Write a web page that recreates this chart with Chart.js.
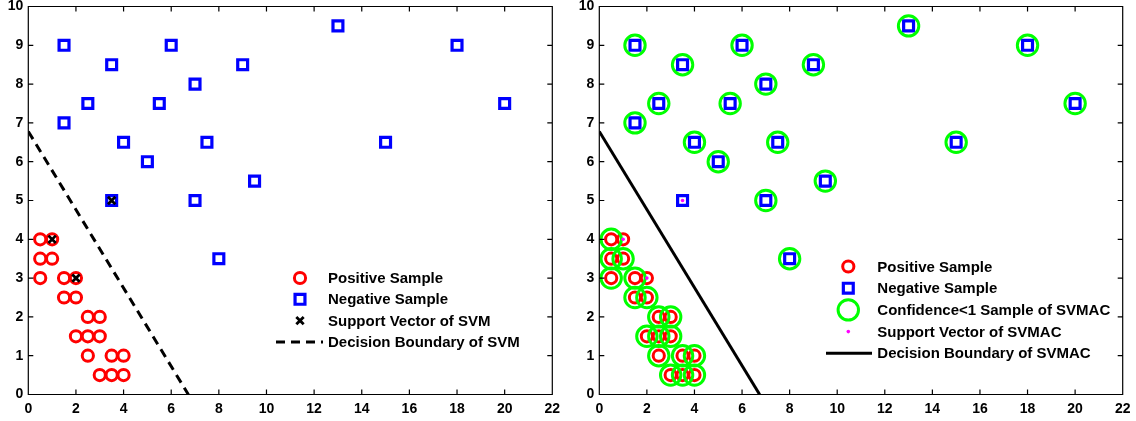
<!DOCTYPE html>
<html><head><meta charset="utf-8">
<script src="https://cdn.jsdelivr.net/npm/chart.js@4.4.1/dist/chart.umd.min.js"></script>
<style>
html,body{margin:0;padding:0;background:#fff;}
#wrap{position:relative;width:1136px;height:421px;overflow:hidden;}
canvas{position:absolute;top:0;}
</style></head><body>
<div id="wrap">
<canvas id="c1" width="570" height="421" style="left:0px"></canvas>
<canvas id="c2" width="566" height="421" style="left:570px"></canvas>
</div>
<script>
// ---------- data ----------
const xTicks = [0, 2, 4, 6, 8, 10, 12, 14, 16, 18, 20, 22];
const yTicks = [0, 1, 2, 3, 4, 5, 6, 7, 8, 9, 10];

const positiveX = [0.5, 1, 0.5, 1, 0.5, 1.5, 2, 1.5, 2, 2.5, 3, 2, 2.5, 3, 2.5, 3.5, 4, 3, 3.5, 4];
const positiveY = [4, 4, 3.5, 3.5, 3, 3, 3, 2.5, 2.5, 2, 2, 1.5, 1.5, 1.5, 1, 1, 1, 0.5, 0.5, 0.5];

const negativeX = [1.5, 3.5, 6, 2.5, 1.5, 5.5, 7, 9, 13, 18, 20, 4, 7.5, 5, 15, 9.5, 3.5, 7, 8];
const negativeY = [9, 8.5, 9, 7.5, 7, 7.5, 8, 8.5, 9.5, 9, 7.5, 6.5, 6.5, 6, 6.5, 5.5, 5, 5, 3.5];

const svmSupportX = [1, 2, 3.5];
const svmSupportY = [4, 3, 5];
const svmBoundaryX = [0, 6.72];
const svmBoundaryY = [6.78, 0];

const confidenceX = [0.5, 0.5, 1, 0.5, 1.5, 1.5, 2, 2.5, 3, 2, 2.5, 3, 2.5, 3.5, 4, 3, 3.5, 4,
  1.5, 3.5, 6, 2.5, 1.5, 5.5, 7, 9, 13, 18, 20, 4, 7.5, 5, 15, 9.5, 7, 8];
const confidenceY = [4, 3.5, 3.5, 3, 3, 2.5, 2.5, 2, 2, 1.5, 1.5, 1.5, 1, 1, 1, 0.5, 0.5, 0.5,
  9, 8.5, 9, 7.5, 7, 7.5, 8, 8.5, 9.5, 9, 7.5, 6.5, 6.5, 6, 6.5, 5.5, 5, 3.5];

const svmacSupportX = [1, 2, 3.5];
const svmacSupportY = [4, 3, 5];
const svmacBoundaryX = [0, 6.74];
const svmacBoundaryY = [6.78, 0];

// ---------- helpers ----------
const pts = (xs, ys) => xs.map((x, i) => ({ x: x, y: ys[i] }));
const FONT = "'Liberation Sans', Arial, Helvetica, sans-serif";

function posDS(order) {
  return { label: 'Positive Sample', data: pts(positiveX, positiveY), pointStyle: 'circle', pointRadius: 5.6,
    borderColor: '#ff0000', backgroundColor: 'rgba(0,0,0,0)', pointBorderWidth: 3, showLine: false, order: order, lg: 'point' };
}
function negDS(order) {
  return { label: 'Negative Sample', data: pts(negativeX, negativeY), pointStyle: 'rect', pointRadius: 7,
    borderColor: '#0000ff', backgroundColor: 'rgba(0,0,0,0)', pointBorderWidth: 3.2, showLine: false, order: order, lg: 'point' };
}

const framePlugin = {
  id: 'frame',
  afterDraw(chart) {
    const ctx = chart.ctx, a = chart.chartArea;
    const xs = chart.scales.x, ys = chart.scales.y;
    ctx.save();
    ctx.strokeStyle = '#000';
    ctx.lineWidth = 1.2;
    ctx.beginPath();
    ctx.rect(a.left, a.top, a.right - a.left, a.bottom - a.top);
    const tl = 5;
    xTicks.forEach(v => {
      const p = xs.getPixelForValue(v);
      ctx.moveTo(p, a.bottom); ctx.lineTo(p, a.bottom - tl);
      ctx.moveTo(p, a.top); ctx.lineTo(p, a.top + tl);
    });
    yTicks.forEach(v => {
      const p = ys.getPixelForValue(v);
      ctx.moveTo(a.left, p); ctx.lineTo(a.left + tl, p);
      ctx.moveTo(a.right, p); ctx.lineTo(a.right - tl, p);
    });
    ctx.stroke();

    // legend
    const L = chart.options.plugins.customLegend;
    ctx.font = 'bold 15px ' + FONT;
    ctx.textBaseline = 'middle';
    ctx.textAlign = 'left';
    chart.data.datasets.forEach((ds, i) => {
      const y = L.y + i * L.dy;
      ctx.save();
      if (ds.lg === 'line') {
        ctx.strokeStyle = ds.borderColor;
        ctx.lineWidth = ds.borderWidth;
        ctx.setLineDash(ds.borderDash || []);
        ctx.beginPath();
        ctx.moveTo(L.lineX0, y); ctx.lineTo(L.lineX1, y);
        ctx.stroke();
      } else {
        ctx.strokeStyle = ds.borderColor;
        ctx.fillStyle = ds.backgroundColor;
        ctx.lineWidth = ds.pointBorderWidth;
        Chart.helpers.drawPoint(ctx, {
          pointStyle: ds.pointStyle, radius: ds.pointRadius, rotation: 0, borderWidth: ds.pointBorderWidth
        }, L.markX, y);
      }
      ctx.restore();
      ctx.fillStyle = '#000';
      ctx.fillText(ds.label, L.textX, y + 1);
    });
    ctx.restore();
  }
};

function makeChart(id, datasets, yWidth, padRight, legend) {
  return new Chart(document.getElementById(id), {
    type: 'scatter',
    data: { datasets: datasets },
    options: {
      responsive: false, animation: false, devicePixelRatio: 1,
      layout: { autoPadding: false, padding: { left: 0, right: padRight, top: 6.5, bottom: 0 } },
      plugins: { legend: { display: false }, tooltip: { enabled: false }, customLegend: legend },
      scales: {
        x: {
          type: 'linear', min: 0, max: 22,
          grid: { display: false, drawTicks: false }, border: { display: false },
          ticks: { color: '#000', font: { family: FONT, weight: 'bold', size: 14 }, padding: 6, maxRotation: 0 },
          afterBuildTicks: s => { s.ticks = xTicks.map(v => ({ value: v })); },
          afterFit: s => { s.height = 26.5; s.paddingLeft = 0; s.paddingRight = 0; s.paddingTop = 0; s.paddingBottom = 0; }
        },
        y: {
          type: 'linear', min: 0, max: 10,
          grid: { display: false, drawTicks: false }, border: { display: false },
          ticks: { color: '#000', font: { family: FONT, weight: 'bold', size: 14 }, padding: 5 },
          afterBuildTicks: s => { s.ticks = yTicks.map(v => ({ value: v })); },
          afterFit: s => { s.width = yWidth; s.paddingLeft = 0; s.paddingRight = 0; s.paddingTop = 0; s.paddingBottom = 0; }
        }
      }
    },
    plugins: [framePlugin]
  });
}

makeChart('c1', [
  posDS(4),
  negDS(3),
  { label: 'Support Vector of SVM', data: pts(svmSupportX, svmSupportY), pointStyle: 'crossRot', pointRadius: 5.2,
    borderColor: '#000', backgroundColor: '#000', pointBorderWidth: 2.8, showLine: false, order: 1, lg: 'point' },
  { label: 'Decision Boundary of SVM', data: pts(svmBoundaryX, svmBoundaryY), showLine: true, pointRadius: 0,
    borderColor: '#000', borderWidth: 3, borderDash: [9, 6], order: 0, lg: 'line' }
], 28.3, 17.7, { markX: 300, textX: 328, y: 278, dy: 21.3, lineX0: 276, lineX1: 323 });

makeChart('c2', [
  posDS(4),
  negDS(3),
  { label: 'Confidence<1 Sample of SVMAC', data: pts(confidenceX, confidenceY), pointStyle: 'circle', pointRadius: 10.2,
    borderColor: '#00ff00', backgroundColor: 'rgba(0,0,0,0)', pointBorderWidth: 3, showLine: false, order: 2, lg: 'point' },
  { label: 'Support Vector of SVMAC', data: pts(svmacSupportX, svmacSupportY), pointStyle: 'circle', pointRadius: 1.8,
    borderColor: '#ff00ff', backgroundColor: '#ff00ff', pointBorderWidth: 0, showLine: false, order: 1, lg: 'point' },
  { label: 'Decision Boundary of SVMAC', data: pts(svmacBoundaryX, svmacBoundaryY), showLine: true, pointRadius: 0,
    borderColor: '#000', borderWidth: 3, order: 0, lg: 'line' }
], 29.3, 13.3, { markX: 278.3, textX: 307.3, y: 266.5, dy: 21.7, lineX0: 256, lineX1: 302 });
</script>
</body></html>
